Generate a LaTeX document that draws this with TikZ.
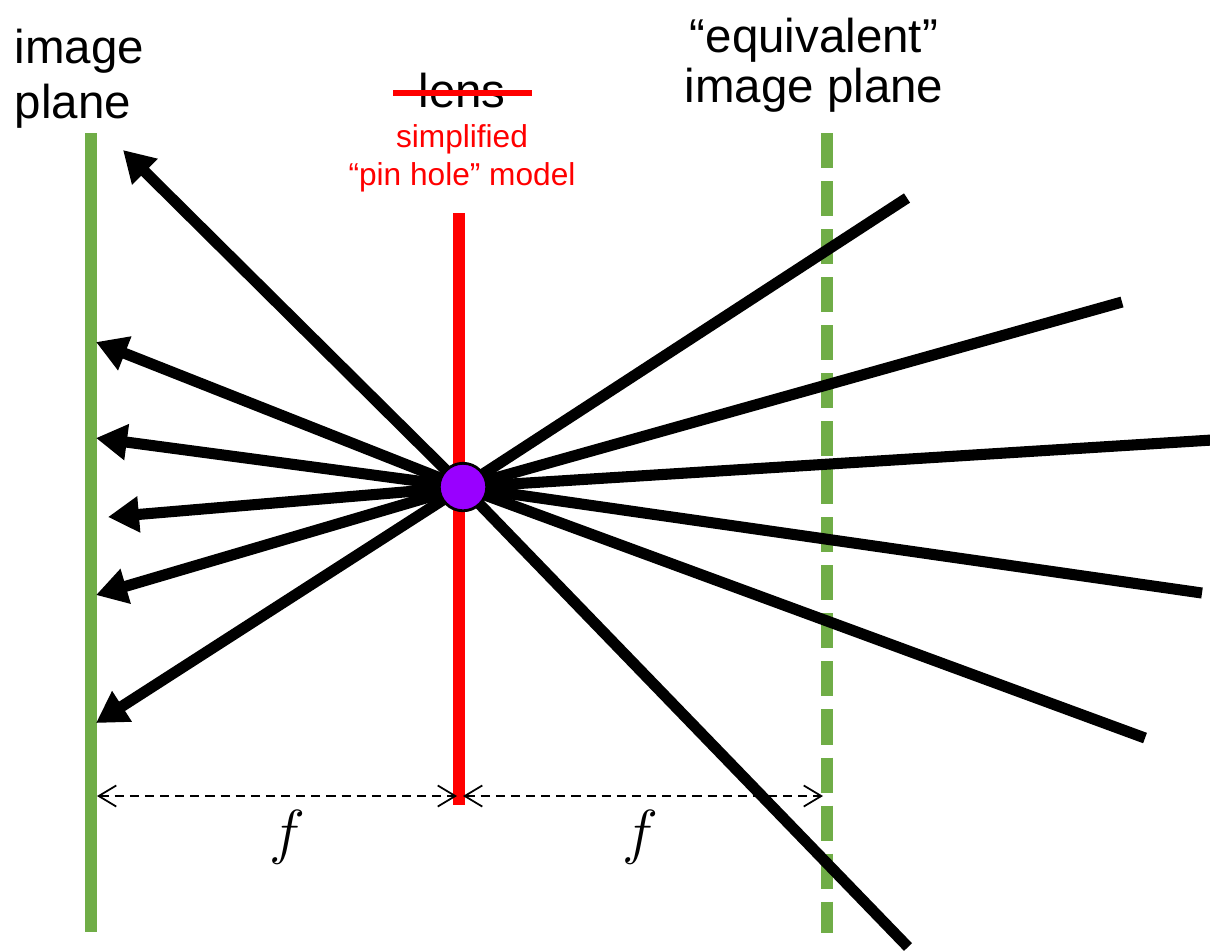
\documentclass[tikz,border=0pt]{standalone}
\usepackage{fontspec}
\setmainfont{Liberation Sans}
\usepackage{tikz}
\usetikzlibrary{arrows.meta}
\definecolor{planegreen}{HTML}{70AD47}
\definecolor{pinpurple}{HTML}{9900FF}

\begin{document}
\begin{tikzpicture}[x=0.01cm, y=-0.01cm,
  ray/.style={line width=3.15pt, black, line join=round},
  rayin/.style={ray, -{Triangle[length=8.8pt,width=9.8pt]}},
  plane/.style={line width=3.2pt, planegreen},
  dimline/.style={line width=0.5pt, dash pattern=on 2.6pt off 1.7pt,
    {Straight Barb[length=5pt,width=6pt]}-{Straight Barb[length=5pt,width=6pt]}},
  bigtext/.style={font=\fontsize{13.5}{15.6}\selectfont, inner sep=0pt}]
\useasboundingbox (0,0) rectangle (1210,950);

% the two image planes and the lens
\coordinate (ipT) at (91,133);  \coordinate (ipB) at (91,932);
\coordinate (epT) at (827,133); \coordinate (epB) at (827,933);
\coordinate (lnT) at (459,213); \coordinate (lnB) at (459,805);
\draw[plane] (ipT) -- (ipB);
\draw[plane, dash pattern=on 9.96pt off 3.7pt] (epT) -- (epB);
\draw[line width=3.4pt, red] (lnT) -- (lnB);

% rays through the pin hole
\coordinate (pc) at (463,487);
\foreach \r/\rx/\ry/\t/\tx/\ty in {r1/907/198/t1/96/723, r2/1122/302/t2/96/595,
    r3/1212/440/t3/108/517, r4/1202/593/t4/96/438, r5/1145/738/t5/96/342,
    r6/908/947/t6/123/150} {
  \coordinate (\r) at (\rx,\ry);
  \coordinate (\t) at (\tx,\ty);
  \draw[rayin] (\r) -- (pc) -- (\t);
}
\node[circle, draw, line width=0.8pt, fill=pinpurple, minimum size=13.5pt, inner sep=0pt] (pin) at (pc) {};

% focal distances
\coordinate (dL) at (97,796);  \coordinate (dM1) at (457,796);
\coordinate (dM2) at (463,796); \coordinate (dR) at (823,796);
\draw[dimline] (dL) -- (dM1);
\draw[dimline] (dM2) -- (dR);
\node[font=\fontsize{18}{20}\selectfont] (f1) at (287,837) {$f$};
\node[font=\fontsize{18}{20}\selectfont] (f2) at (640,837) {$f$};

% labels
\node[bigtext, align=left, anchor=base west] (ipLabel) at (14,118) {image\\plane};
\node[bigtext, font=\fontsize{13.5}{14}\selectfont, align=center, anchor=base] (epLabel) at (814,102) {“equivalent”\\image plane};
\node[bigtext, anchor=base] (lens) at (462,107) {lens};
\draw[red, line width=1.5pt] (393,93) -- (532,93);
\node[font=\fontsize{9}{10.8}\selectfont, red, align=center, anchor=base] (pinLabel) at (462,185) {simplified\\“pin hole” model};
\end{tikzpicture}
\end{document}
